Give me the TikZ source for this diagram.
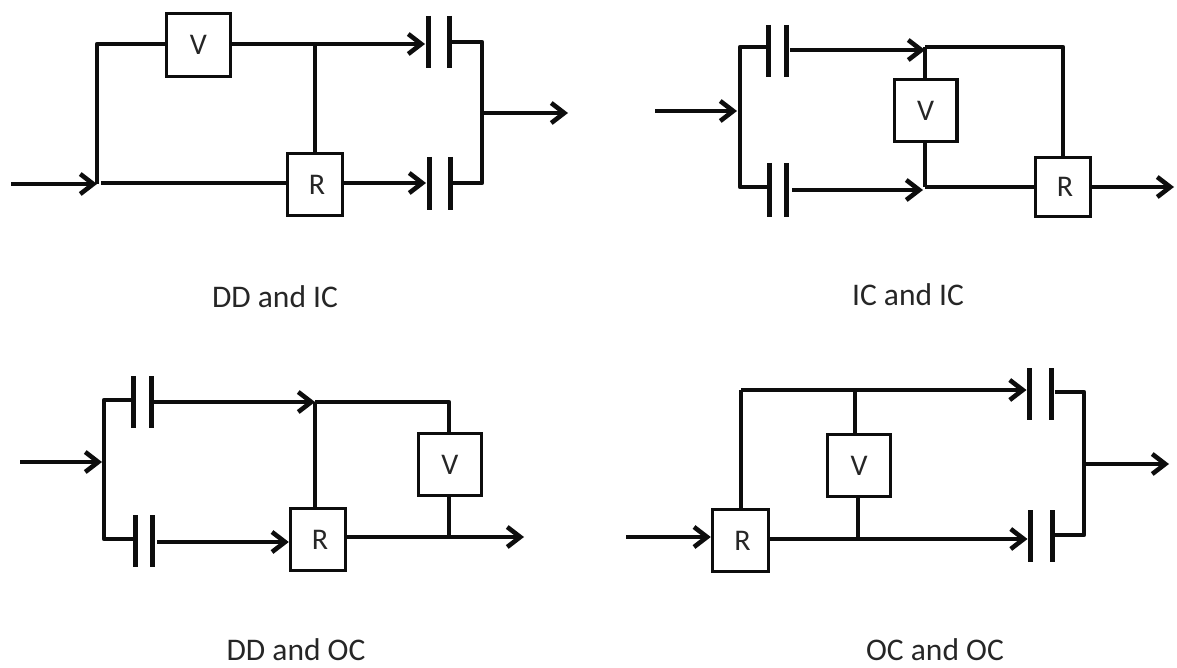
\documentclass[tikz,border=0pt]{standalone}
\usepackage{fontspec}
\setmainfont{Carlito}
\usetikzlibrary{arrows.meta}
\tikzset{
  x=1pt,y=-1pt,
  wire/.style={line width=4.6pt,draw=black!95,line join=round},
  arr/.style={wire,-{Straight Barb[length=13pt,width=20pt,line width=4.6pt]}},
  arrc/.style={arr,shorten >=3pt},
  gapw/.style={shorten <=4pt},
  plate/.style={line width=5pt,draw=black!95},
  boxn/.style={draw=black!95,line width=3.4pt,fill=white,inner sep=0pt,text=black!85,font=\fontsize{30}{34}\selectfont},
  captext/.style={font=\fontsize{31.5}{36}\selectfont,text=black!85,inner sep=0pt}
}
\newcommand{\bx}[6]{\node[boxn,minimum width=#4 pt,minimum height=#5 pt] (#1) at (#2,#3) {#6};}
\newcommand{\pl}[5]{\coordinate (#1t) at (#2,#3); \coordinate (#1b) at (#2,#4); \coordinate (#1m) at (#2,#5); \draw[plate] (#1t) -- (#1b);}
\newcommand{\co}[3]{\coordinate (#1) at (#2,#3);}
\begin{document}
\begin{tikzpicture}
\useasboundingbox (0,0) rectangle (1177,668);
% panel 1
\co{a0}{11}{184}\co{a1}{97}{184}\co{a1b}{101}{183}\co{a2}{97}{44}\co{a3}{315}{44}
\pl{p1}{428}{16}{68}{44}\pl{p2}{449}{16}{68}{42}\pl{p3}{429}{157}{210}{183}\pl{p4}{450}{157}{210}{183}
\co{a5}{482}{42}\co{a6}{482}{183}\co{a7}{482}{113}\co{a8}{568}{113}
\bx{v1}{198.5}{45}{64}{63}{V}
\bx{r1}{315}{184.5}{55}{62}{\kern4pt R}
\draw[arr] (a0) -- (a1);
\draw[wire] (a1) -- (a2) -- (v1.west |- a2);
\draw[arrc] (v1.east |- a3) -- (p1m);
\draw[wire] (a3) -- (r1.north);
\draw[wire] (a1b) -- (r1.west |- a1b);
\draw[arrc] (r1.east |- p3m) -- (p3m);
\draw[wire] (p2m) -- (a5) -- (a6) -- (p4m);
\draw[arr] (a7) -- (a8);
% panel 2
\co{b0}{655}{111}\co{b1}{737}{111}\co{b2}{740}{47}\co{b3}{740}{187}
\pl{q1}{768}{25}{77}{47}\pl{q2}{786}{25}{77}{50}\pl{q3}{769}{163}{217}{187}\pl{q4}{786}{163}{217}{190}
\co{b4}{925}{50}\co{b5}{923}{190}\co{b4t}{925}{47}\co{b5t}{925}{187}\co{b6}{1063}{47}\co{b7}{1174}{187}
\bx{v2}{925.7}{110.5}{62.5}{62}{V}
\bx{r2}{1063}{187}{55}{59}{\kern4pt R}
\draw[arr] (b0) -- (b1);
\draw[wire] (q1m) -- (b2) -- (b3) -- (q3m);
\draw[arr,gapw] (q2m) -- (b4);
\draw[arr,shorten <=6pt] (q4m) -- (b5);
\draw[wire] (b4t) -- (b6) -- (r2.north);
\draw[wire] (b4t) -- (b4t |- v2.north);
\draw[wire] (b5t |- v2.south) -- (b5t);
\draw[wire] (b5t) -- (r2.west);
\draw[arr] (r2.east) -- (b7);
% panel 3
\co{c0}{20}{462}\co{c1}{102}{462}\co{c2}{104}{400}\co{c3}{104}{539}
\pl{s1}{133}{376}{428}{400}\pl{s2}{151}{376}{428}{402}\pl{s3}{135}{515}{567}{539}\pl{s4}{152}{515}{567}{542}
\co{c4}{315}{402}\co{c5}{449}{402}\co{c6}{449}{537}\co{c7}{524}{537}
\bx{v3}{450}{464.5}{63}{62}{V}
\bx{r3}{318}{539.5}{55}{62}{\kern4pt R}
\draw[arr] (c0) -- (c1);
\draw[wire] (s1m) -- (c2) -- (c3) -- (s3m);
\draw[arr] (s2m) -- (c4);
\draw[wire] (c4) -- (c5) -- (c5 |- v3.north);
\draw[wire] (c4) -- (c4 |- r3.north);
\draw[arr,shorten <=5pt] (s4m) -- (r3.west |- s4m);
\draw[wire] (c5 |- v3.south) -- (c6);
\draw[arr] (r3.east |- c7) -- (c7);
% panel 4
\co{d0}{626}{537}\co{d1}{741}{390}\co{d2}{855}{390}\co{d3}{858}{539}
\pl{t1}{1029.5}{368}{420}{390}\pl{t2}{1051}{368}{420}{392}\pl{t3}{1030.5}{510}{562}{539}\pl{t4}{1052}{510}{562}{535}
\co{d4}{1084}{392}\co{d5}{1084}{535}\co{d6}{1084}{464}\co{d7}{1169}{464}
\bx{r4}{740.5}{540.5}{56}{62}{\kern4pt R}
\bx{v4}{859}{465.5}{63}{62}{V}
\draw[arr] (d0) -- (r4.west |- d0);
\draw[wire] (d1 |- r4.north) -- (d1);
\draw[arrc] (d1) -- (t1m);
\draw[wire] (d2) -- (d2 |- v4.north);
\draw[wire] (d3 |- v4.south) -- (d3);
\draw[arrc] (r4.east |- d3) -- (t3m);
\draw[wire,gapw] (t2m) -- (d4) -- (d5) -- (t4m);
\draw[arr] (d6) -- (d7);
% labels
\node[captext] (l1) at (275,297) {DD and IC};
\node[captext] (l2) at (908,295) {IC and IC};
\node[captext] (l3) at (296,650) {DD and OC};
\node[captext] (l4) at (935,650) {OC and OC};
\end{tikzpicture}
\end{document}
